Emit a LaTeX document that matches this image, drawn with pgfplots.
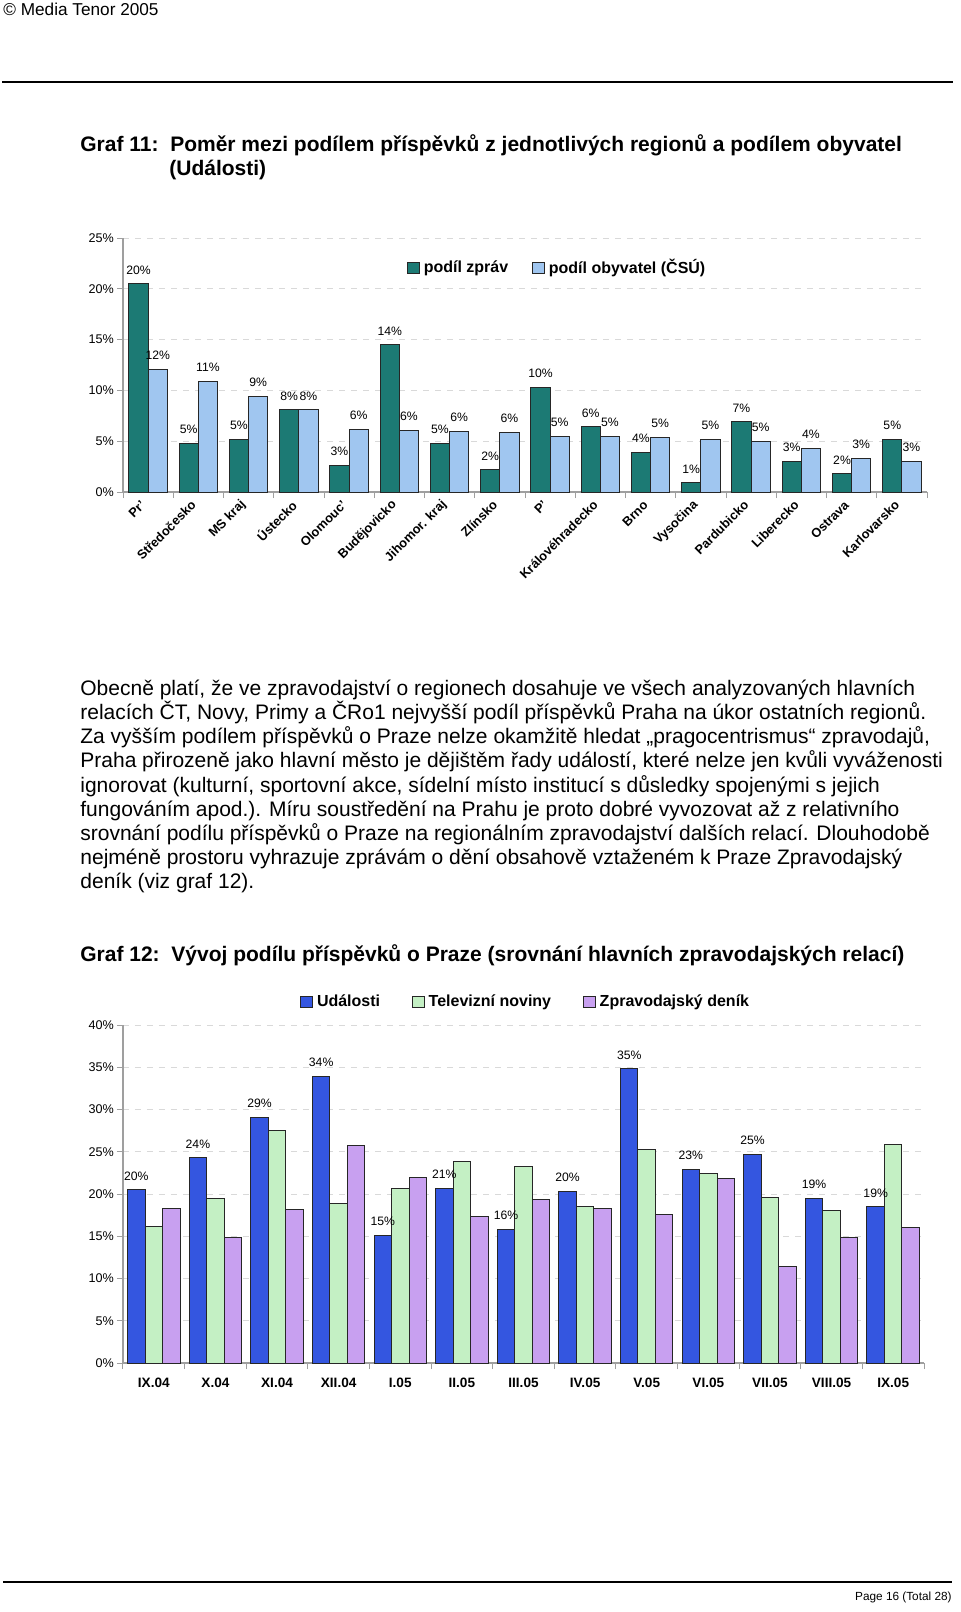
\documentclass[border=0pt]{standalone}
\usepackage{fontspec}
\setmainfont{Liberation Sans}
\usepackage{pgfplots}
\pgfplotsset{compat=1.18}
\usepackage{pgfplotstable}

\definecolor{tealM}{HTML}{1C7A74}
\definecolor{ltbM}{HTML}{A0C6F0}
\definecolor{bluM}{HTML}{3456E0}
\definecolor{grnM}{HTML}{C4F0C4}
\definecolor{purM}{HTML}{C8A0F0}

\pgfplotstableread{
x y l
0 20.5 20
1 4.8 5
2 5.2 5
3 8.1 8
4 2.6 3
5 14.5 14
6 4.8 5
7 2.2 2
8 10.3 10
9 6.4 6
10 3.9 4
11 0.9 1
12 6.9 7
13 3.0 3
14 1.8 2
15 5.2 5
}\zpravy

\pgfplotstableread{
x y l
0 12.1 12
1 10.9 11
2 9.4 9
3 8.1 8
4 6.2 6
5 6.1 6
6 6.0 6
7 5.9 6
8 5.5 5
9 5.5 5
10 5.4 5
11 5.2 5
12 5.0 5
13 4.3 4
14 3.3 3
15 3.0 3
}\obyvatel

\pgfplotstableread{
x ud tv zd l
0 20.5 16.1 18.3 20
1 24.3 19.5 14.8 24
2 29.1 27.5 18.2 29
3 33.9 18.9 25.7 34
4 15.1 20.7 22.0 15
5 20.7 23.9 17.3 21
6 15.8 23.2 19.3 16
7 20.3 18.5 18.3 20
8 34.8 25.3 17.6 35
9 22.9 22.4 21.8 23
10 24.7 19.6 11.4 25
11 19.5 18.1 14.8 19
12 18.5 25.9 16.0 19
}\praha

\pgfplotsset{
  pagechart/.style={
    scale only axis,
    anchor=south west,
    ymin=0,
    axis x line*=bottom,
    axis y line*=left,
    axis line style={gray!75, line width=0.6pt},
    ymajorgrids,
    grid style={dashed, gray!30, line width=0.4pt},
    tick align=outside,
    major tick length=3pt,
    minor tick length=3pt,
    tick style={gray!75, line width=0.5pt},
    major x tick style={draw=none},
    /pgf/number format/assume math mode=true,
    yticklabel={\pgfmathprintnumber{\tick}\%},
    yticklabel style={font=\fontsize{6.3}{7}\selectfont, xshift=2pt},
    every axis plot post/.append style={
      legend image code/.code={\draw[##1, draw=black!85, line width=0.5pt] (0pt,-2.9pt) rectangle (5.8pt,2.9pt);}},
    legend style={draw=none, fill=none, inner sep=0pt, legend columns=-1,
      font=\bfseries\fontsize{8}{9.6}\selectfont},
    every node near coord/.append style={font=\fontsize{6.1}{7}\selectfont, inner sep=0pt, yshift=4.5pt, black},
  },
}

\begin{document}
\begin{tikzpicture}
\begin{scope}[x=0.5pt,y=-0.5pt]
\path (0,0) rectangle (960,1612);
\node[anchor=west,inner sep=0pt,font=\fontsize{8.6}{10}\selectfont] at (3,9) {© Media Tenor 2005};
\draw[line width=1.2pt] (2,82) -- (953,82);
\node[anchor=base west,inner sep=0pt,font=\bfseries\fontsize{10.5}{12.5}\selectfont] at (80,151) {Graf 11:\ \ Poměr mezi podílem příspěvků z jednotlivých regionů a podílem obyvatel};
\node[anchor=base west,inner sep=0pt,font=\bfseries\fontsize{10.5}{12.5}\selectfont] at (169,175) {(Události)};
\begin{scope}[every node/.style={anchor=base west,inner sep=0pt,font=\fontsize{10.5}{12.6}\selectfont}]
\node at (80,695) {Obecně platí, že ve zpravodajství o regionech dosahuje ve všech analyzovaných hlavních};
\node at (80,719) {relacích ČT, Novy, Primy a ČRo1 nejvyšší podíl příspěvků Praha na úkor ostatních regionů.};
\node at (80,743) {Za vyšším podílem příspěvků o Praze nelze okamžitě hledat „pragocentrismus“ zpravodajů,};
\node at (80,767) {Praha přirozeně jako hlavní město je dějištěm řady událostí, které nelze jen kvůli vyváženosti};
\node at (80,792) {ignorovat (kulturní, sportovní akce, sídelní místo institucí s důsledky spojenými s jejich};
\node at (80,816) {fungováním apod.). Míru soustředění na Prahu je proto dobré vyvozovat až z relativního};
\node at (80,840) {srovnání podílu příspěvků o Praze na regionálním zpravodajství dalších relací. Dlouhodobě};
\node at (80,864) {nejméně prostoru vyhrazuje zprávám o dění obsahově vztaženém k Praze Zpravodajský};
\node at (80,888) {deník (viz graf 12).};
\end{scope}
\node[anchor=base west,inner sep=0pt,font=\bfseries\fontsize{10.5}{12.5}\selectfont] at (80,961) {Graf 12:\ \ Vývoj podílu příspěvků o Praze (srovnání hlavních zpravodajských relací)};
\draw[line width=1.2pt] (3,1582) -- (952,1582);
\node[anchor=east,inner sep=0pt,font=\fontsize{5.9}{7}\selectfont] at (952,1597) {Page 16 (Total 28)};
\end{scope}

% Chart 1
\begin{axis}[pagechart,
  at={(61.5pt,-246pt)},
  width=402pt, height=127pt,
  xmin=-0.5, xmax=15.5, ymax=25,
  ytick={0,5,...,25},
  xtick={0,...,15},
  xticklabels={Pr’, Středočesko, MS kraj, Ústecko, Olomouc’, Budějovicko, Jihomor. kraj, Zlínsko, P’, Královéhradecko, Brno, Vysočina, Pardubicko, Liberecko, Ostrava, Karlovarsko},
  xticklabel style={rotate=45, anchor=east, font=\bfseries\fontsize{6.4}{7}\selectfont},
  minor xtick={-0.5,0.5,...,15.5},
  ybar=0pt, bar width=9.6pt,
  nodes near coords={\pgfplotspointmeta\%},
  point meta=explicit symbolic,
  legend style={at={(0.353,0.882)}, anchor=west, /tikz/every even column/.append style={column sep=10pt}},
]
\addplot[draw=black!85, line width=0.5pt, fill=tealM] table[x=x,y=y,meta=l] {\zpravy};
\addplot[draw=black!85, line width=0.5pt, fill=ltbM] table[x=x,y=y,meta=l] {\obyvatel};
\legend{podíl zpráv, podíl obyvatel (ČSÚ)}
\end{axis}

% Chart 2
\begin{axis}[pagechart,
  at={(61.5pt,-681.5pt)},
  width=400.5pt, height=169pt,
  xmin=-0.5, xmax=12.5, ymax=40,
  ytick={0,5,...,40},
  xtick={0,...,12},
  xticklabels={IX.04, X.04, XI.04, XII.04, I.05, II.05, III.05, IV.05, V.05, VI.05, VII.05, VIII.05, IX.05},
  xticklabel style={font=\bfseries\fontsize{6.8}{7.5}\selectfont, yshift=-1pt},
  minor xtick={-0.5,0.5,...,12.5},
  ybar=0pt, bar width=8.75pt,
  legend style={at={(0.221,1.068)}, anchor=west, /tikz/every even column/.append style={column sep=14pt}},
]
\addplot[draw=black!85, line width=0.5pt, fill=bluM,
  nodes near coords={\pgfplotspointmeta\%}, point meta=explicit symbolic] table[x=x,y=ud,meta=l] {\praha};
\addplot[draw=black!85, line width=0.5pt, fill=grnM] table[x=x,y=tv] {\praha};
\addplot[draw=black!85, line width=0.5pt, fill=purM] table[x=x,y=zd] {\praha};
\legend{Události, Televizní noviny, Zpravodajský deník}
\end{axis}
\end{tikzpicture}
\end{document}
